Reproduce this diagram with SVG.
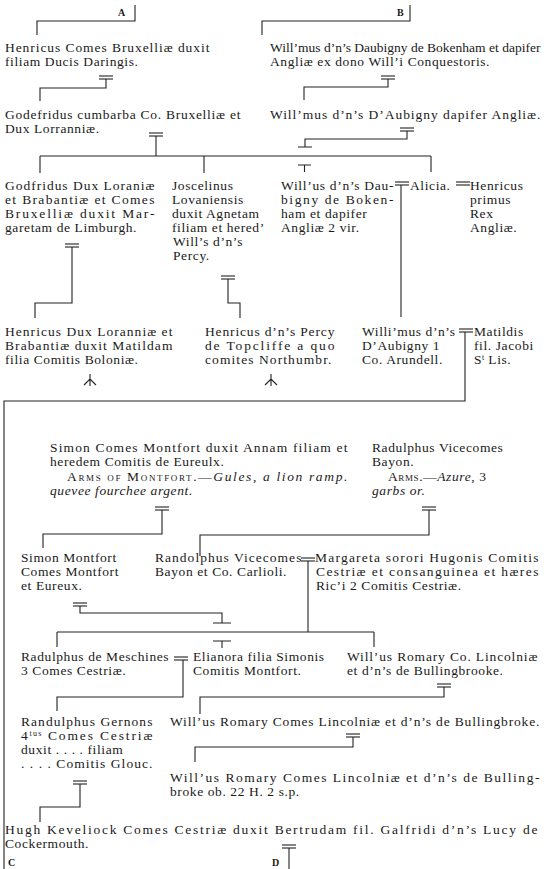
<svg xmlns="http://www.w3.org/2000/svg" width="544" height="869" viewBox="0 0 544 869">
<defs>
<style>
.t{font-family:"Liberation Serif","DejaVu Serif",serif;font-size:13.5px;letter-spacing:0.6px;fill:#1a1a1a}
.i{font-style:italic}
.sc{font-variant:small-caps}
.lb{font-family:"Liberation Serif",serif;font-size:10px;font-weight:bold;fill:#1a1a1a}
.sup{font-size:8px;letter-spacing:0}
.c path{stroke:#222;stroke-width:1.1;fill:none}
</style>
<g id="eq" stroke="#222" stroke-width="1.1" fill="none"><line x1="-7" y1="0" x2="7" y2="0"/><line x1="-7" y1="3" x2="7" y2="3"/></g>
<path id="arr" d="M0,-1 V11 M-6,10 L0,4 L6,10" stroke="#222" stroke-width="1.1" fill="none"/>
</defs>
<rect width="544" height="869" fill="#fff"/>

<g id="connectors" class="c">
<path d="M135,5 V21 H37 V35"/>
<path d="M410,5 V21 H262 V35"/>
<use href="#eq" x="106" y="76"/><path d="M106,79 V88 H40 V101"/>
<use href="#eq" x="388" y="76"/><path d="M388,79 V87 H304 V100"/>
<use href="#eq" x="156" y="133"/><path d="M156,136 V156"/>
<use href="#eq" x="407" y="128"/><path d="M407,131 V139 H305 V147 M298,147 H312"/>
<path d="M40,156 H431 M40,156 V173 M204,156 V173 M431,156 V172 M298,165 H311 M304.5,165 V172"/>
<use href="#eq" x="402" y="182"/><path d="M401,185 V317"/>
<use href="#eq" x="463" y="182"/>
<use href="#eq" x="72" y="244"/><path d="M72,247 V303 H35 V318"/>
<use href="#eq" x="228" y="276"/><path d="M228,279 V303 H240 V318"/>
<use href="#arr" x="90" y="375"/>
<use href="#arr" x="271" y="375"/>
<use href="#eq" x="466" y="329"/><path d="M465,332 V401 H4 V869"/>
<use href="#eq" x="162" y="507"/><path d="M162,510 V534 H43 V548"/>
<use href="#eq" x="429" y="507"/><path d="M429,510 V535 H200 V556"/>
<use href="#eq" x="308" y="558"/><path d="M308,561 V632"/>
<use href="#eq" x="80" y="603"/><path d="M80,606 V613 H222 V623 M213,623 H231"/>
<path d="M57,632 H374 M57,632 V647 M374,632 V647 M213,641 H231 M222,641 V648"/>
<use href="#eq" x="181" y="657"/><path d="M183,660 V697 H57 V711"/>
<use href="#eq" x="444" y="684"/><path d="M444,687 V697 H200 V714"/>
<use href="#eq" x="353" y="734"/><path d="M353,737 V747 H195 V762"/>
<use href="#eq" x="80" y="781"/><path d="M80,784 V807 H40 V822"/>
<use href="#eq" x="289" y="845"/><path d="M289,848 V869"/>
</g>

<g id="labels">
<text class="lb" x="118" y="16">A</text>
<text class="lb" x="397" y="16">B</text>
<text class="lb" x="8" y="866">C</text>
<text class="lb" x="272" y="866">D</text>
</g>

<g id="n_henricus_bruxelliae"><text class="t">
<tspan x="5" y="52" textLength="205">Henricus Comes Bruxelliæ duxit</tspan>
<tspan x="5" y="66">filiam Ducis Daringis.</tspan>
</text></g>
<g id="n_willmus_daubigny"><text class="t">
<tspan x="270" y="52" textLength="271">Will’mus d’n’s Daubigny de Bokenham et dapifer</tspan>
<tspan x="270" y="66">Angliæ ex dono Will’i Conquestoris.</tspan>
</text></g>
<g id="n_godefridus"><text class="t">
<tspan x="5" y="119" textLength="236">Godefridus cumbarba Co. Bruxelliæ et</tspan>
<tspan x="5" y="133">Dux Lorranniæ.</tspan>
</text></g>
<g id="n_willmus_aubigny"><text class="t">
<tspan x="270" y="119" textLength="271">Will’mus d’n’s D’Aubigny dapifer Angliæ.</tspan>
</text></g>
<g id="n_godfridus_dux"><text class="t">
<tspan x="5" y="190" textLength="150">Godfridus Dux Loraniæ</tspan>
<tspan x="5" y="204" textLength="150">et Brabantiæ et Comes</tspan>
<tspan x="5" y="218" textLength="150">Bruxelliæ duxit Mar-</tspan>
<tspan x="5" y="232">garetam de Limburgh.</tspan>
</text></g>
<g id="n_joscelinus"><text class="t">
<tspan x="172" y="190">Joscelinus</tspan>
<tspan x="172" y="204">Lovaniensis</tspan>
<tspan x="172" y="218">duxit Agnetam</tspan>
<tspan x="172" y="232">filiam et hered’</tspan>
<tspan x="173" y="246">Will’s d’n’s</tspan>
<tspan x="173" y="260">Percy.</tspan>
</text></g>
<g id="n_willus_daubigny"><text class="t">
<tspan x="281" y="190" textLength="113">Will’us d’n’s Dau-</tspan>
<tspan x="281" y="204" textLength="113">bigny de Boken-</tspan>
<tspan x="281" y="218">ham et dapifer</tspan>
<tspan x="281" y="232">Angliæ 2 vir.</tspan>
</text></g>
<g id="n_alicia"><text class="t" x="410" y="190">Alicia.</text></g>
<g id="n_henricus_rex"><text class="t">
<tspan x="470" y="190">Henricus</tspan>
<tspan x="470" y="204">primus</tspan>
<tspan x="470" y="218">Rex</tspan>
<tspan x="470" y="232">Angliæ.</tspan>
</text></g>
<g id="n_henricus_dux"><text class="t">
<tspan x="5" y="336" textLength="168">Henricus Dux Loranniæ et</tspan>
<tspan x="5" y="350" textLength="168">Brabantiæ duxit Matildam</tspan>
<tspan x="5" y="364">filia Comitis Boloniæ.</tspan>
</text></g>
<g id="n_henricus_percy"><text class="t">
<tspan x="205" y="336" textLength="130">Henricus d’n’s Percy</tspan>
<tspan x="205" y="350" textLength="130">de Topcliffe a quo</tspan>
<tspan x="205" y="364" textLength="127">comites Northumbr.</tspan>
</text></g>
<g id="n_willimus"><text class="t">
<tspan x="362" y="336">Willi’mus d’n’s</tspan>
<tspan x="362" y="350">D’Aubigny 1</tspan>
<tspan x="362" y="364">Co. Arundell.</tspan>
</text></g>
<g id="n_matildis"><text class="t">
<tspan x="474" y="336">Matildis</tspan>
<tspan x="474" y="350">fil. Jacobi</tspan>
<tspan x="474" y="364">S<tspan class="sup" dy="-4">t</tspan><tspan dy="4"> Lis.</tspan></tspan>
</text></g>
<g id="n_simon_comes"><text class="t">
<tspan x="50" y="452" textLength="298">Simon Comes Montfort duxit Annam filiam et</tspan>
<tspan x="50" y="466">heredem Comitis de Eureulx.</tspan>
<tspan x="67" y="481" textLength="281"><tspan class="sc">Arms of Montfort.</tspan>—<tspan class="i">Gules, a lion ramp.</tspan></tspan>
<tspan x="50" y="495" class="i">quevee fourchee argent.</tspan>
</text></g>
<g id="n_radulphus_vicecomes"><text class="t">
<tspan x="372" y="452">Radulphus Vicecomes</tspan>
<tspan x="372" y="466">Bayon.</tspan>
<tspan x="388" y="481"><tspan class="sc">Arms.</tspan>—<tspan class="i">Azure,</tspan> 3</tspan>
<tspan x="372" y="495" class="i">garbs or.</tspan>
</text></g>
<g id="n_simon_montfort"><text class="t">
<tspan x="21" y="562">Simon Montfort</tspan>
<tspan x="21" y="576">Comes Montfort</tspan>
<tspan x="21" y="590">et Eureux.</tspan>
</text></g>
<g id="n_randolphus"><text class="t">
<tspan x="155" y="562" textLength="147">Randolphus Vicecomes</tspan>
<tspan x="155" y="576">Bayon et Co. Carlioli.</tspan>
</text></g>
<g id="n_margareta"><text class="t">
<tspan x="315" y="562" textLength="224">Margareta sorori Hugonis Comitis</tspan>
<tspan x="316" y="576" textLength="223">Cestriæ et consanguinea et hæres</tspan>
<tspan x="316" y="590">Ric’i 2 Comitis Cestriæ.</tspan>
</text></g>
<g id="n_radulphus_meschines"><text class="t">
<tspan x="21" y="661">Radulphus de Meschines</tspan>
<tspan x="21" y="675">3 Comes Cestriæ.</tspan>
</text></g>
<g id="n_elianora"><text class="t">
<tspan x="193" y="661">Elianora filia Simonis</tspan>
<tspan x="193" y="675">Comitis Montfort.</tspan>
</text></g>
<g id="n_willus_romary_1"><text class="t">
<tspan x="347" y="661" textLength="191">Will’us Romary Co. Lincolniæ</tspan>
<tspan x="347" y="675">et d’n’s de Bullingbrooke.</tspan>
</text></g>
<g id="n_randulphus_gernons"><text class="t">
<tspan x="21" y="726" textLength="132">Randulphus Gernons</tspan>
<tspan x="21" y="740" textLength="132">4<tspan class="sup" dy="-4">tus</tspan><tspan dy="4"> Comes Cestriæ</tspan></tspan>
<tspan x="21" y="754">duxit . . . . filiam</tspan>
<tspan x="21" y="768" textLength="132">. . . . Comitis Glouc.</tspan>
</text></g>
<g id="n_willus_romary_2"><text class="t">
<tspan x="170" y="726" textLength="370">Will’us Romary Comes Lincolniæ et d’n’s de Bullingbroke.</tspan>
</text></g>
<g id="n_willus_romary_3"><text class="t">
<tspan x="170" y="782" textLength="370">Will’us Romary Comes Lincolniæ et d’n’s de Bulling-</tspan>
<tspan x="170" y="796">broke ob. 22 H. 2 s.p.</tspan>
</text></g>
<g id="n_hugh_keveliock"><text class="t">
<tspan x="5" y="834" textLength="533">Hugh Keveliock Comes Cestriæ duxit Bertrudam fil. Galfridi d’n’s Lucy de</tspan>
<tspan x="5" y="848">Cockermouth.</tspan>
</text></g>
</svg>
